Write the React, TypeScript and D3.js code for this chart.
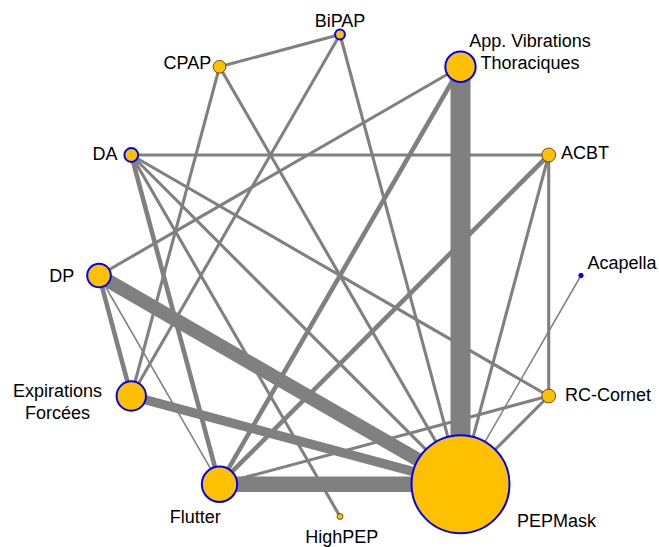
import React from "react";
import * as d3 from "d3";

// Treatments, in the order they are placed around the circle (counter-clockwise from the right)
const nodeNames = [
  "Acapella",
  "ACBT",
  "App. Vibrations Thoraciques",
  "BiPAP",
  "CPAP",
  "DA",
  "DP",
  "Expirations Forcées",
  "Flutter",
  "HighPEP",
  "PEPMask",
  "RC-Cornet",
];
// Number of patients per treatment (node area)
const nodePatients = [2, 20, 96, 10, 17, 20, 58, 90, 130, 3.6, 1000, 20];
// Treatments with a blue outline
const nodeOutlined = [true, false, true, true, false, true, true, true, true, false, true, false];

// Direct comparisons: endpoints and number of studies (edge width)
const edgeSource = [
  "BiPAP", "BiPAP", "BiPAP", "CPAP", "CPAP",
  "App. Vibrations Thoraciques", "App. Vibrations Thoraciques", "App. Vibrations Thoraciques",
  "ACBT", "ACBT", "ACBT", "ACBT",
  "Acapella", "RC-Cornet", "RC-Cornet",
  "DA", "DA", "DA", "DA",
  "DP", "DP", "DP",
  "Expirations Forcées", "Flutter",
];
const edgeTarget = [
  "CPAP", "Expirations Forcées", "PEPMask", "Expirations Forcées", "PEPMask",
  "PEPMask", "DP", "Flutter",
  "DA", "Flutter", "PEPMask", "RC-Cornet",
  "PEPMask", "PEPMask", "Flutter",
  "RC-Cornet", "Flutter", "HighPEP", "PEPMask",
  "PEPMask", "Expirations Forcées", "Flutter",
  "PEPMask", "PEPMask",
];
const edgeStudies = [
  2, 2, 2, 2, 2,
  13, 2, 3,
  2, 3, 2, 2,
  1, 2, 2,
  2, 3, 2, 2,
  9, 3, 1,
  6, 10,
];

// Label placement relative to each node centre
const labelLayout: Record<string, { anchor: string; dx: number; dy: number[] }> = {
  Acapella: { anchor: "start", dx: 6.5, dy: [-6.7] },
  ACBT: { anchor: "start", dx: 12.3, dy: [4.3] },
  "App. Vibrations Thoraciques": { anchor: "middle", dx: 69.5, dy: [-19.4, 2.6] },
  BiPAP: { anchor: "middle", dx: 0, dy: [-7.8] },
  CPAP: { anchor: "end", dx: -8.3, dy: [2.5] },
  DA: { anchor: "end", dx: -13.7, dy: [5] },
  DP: { anchor: "end", dx: -24.7, dy: [6.7] },
  "Expirations Forcées": { anchor: "middle", dx: -73.7, dy: [1.3, 23] },
  Flutter: { anchor: "middle", dx: -24.3, dy: [39] },
  HighPEP: { anchor: "middle", dx: 1.7, dy: [26.6] },
  PEPMask: { anchor: "start", dx: 56.4, dy: [43] },
  "RC-Cornet": { anchor: "start", dx: 16.3, dy: [5.4] },
};
const labelLines: Record<string, string[]> = {
  "App. Vibrations Thoraciques": ["App. Vibrations", "Thoraciques"],
  "Expirations Forcées": ["Expirations", "Forcées"],
};

const WIDTH = 659;
const HEIGHT = 547;
const CX = 340;
const CY = 275.5;
const RING = 241;

export default function App() {
  const angle = d3
    .scaleLinear()
    .domain([0, nodeNames.length])
    .range([0, 2 * Math.PI]);
  const radius = d3.scaleSqrt().domain([0, 1000]).range([0, 49]);
  const strokeW = d3.scaleLinear().domain([0, 13]).range([0, 20]);

  const nodes = nodeNames.map((name, i) => {
    const a = angle(i);
    return {
      name,
      x: CX + RING * Math.cos(a),
      y: CY - RING * Math.sin(a),
      r: radius(nodePatients[i]),
      outlined: nodeOutlined[i],
    };
  });
  const byName = new Map(nodes.map((n) => [n.name, n]));

  const edges = edgeSource.map((s, i) => ({
    s: byName.get(s)!,
    t: byName.get(edgeTarget[i])!,
    w: strokeW(edgeStudies[i]),
  }));

  return (
    <svg
      width={WIDTH}
      height={HEIGHT}
      style={{ position: "absolute", left: 0, top: 0, background: "#fff" }}
      fontFamily="'Liberation Sans', Arial, sans-serif"
      fontSize={18}
    >
      <g>
        {edges.map((e, i) => (
          <line
            key={i}
            x1={e.s.x}
            y1={e.s.y}
            x2={e.t.x}
            y2={e.t.y}
            stroke="#808080"
            strokeWidth={e.w}
          />
        ))}
      </g>
      <g>
        {nodes.map((n) => (
          <circle
            key={n.name}
            cx={n.x}
            cy={n.y}
            r={n.r}
            fill={n.r < 2.5 ? "#0000FF" : "#FFC000"}
            stroke={n.outlined ? "#0000FF" : "#3a3020"}
            strokeWidth={n.outlined ? (n.r < 2.5 ? 1 : 2) : 0.8}
          />
        ))}
      </g>
      <g fill="#000">
        {nodes.map((n) => {
          const lay = labelLayout[n.name];
          const lines = labelLines[n.name] || [n.name];
          return lines.map((txt, j) => (
            <text
              key={n.name + j}
              x={n.x + lay.dx}
              y={n.y + lay.dy[j]}
              textAnchor={lay.anchor}
            >
              {txt}
            </text>
          ));
        })}
      </g>
    </svg>
  );
}
